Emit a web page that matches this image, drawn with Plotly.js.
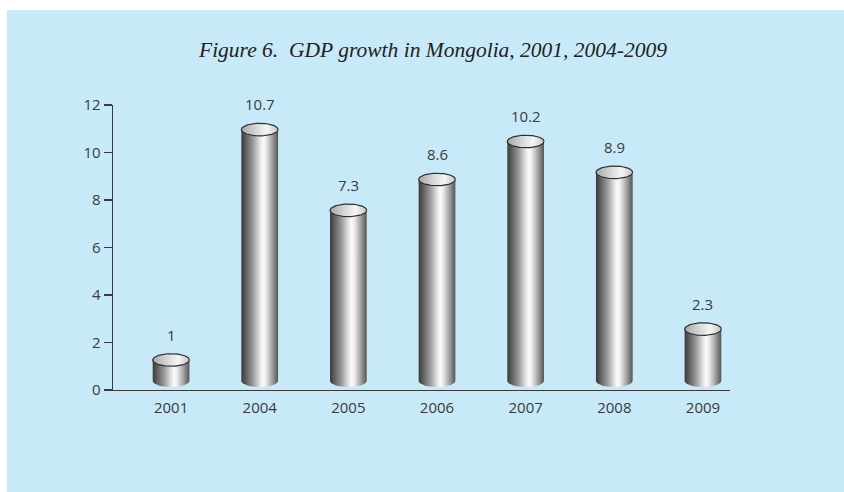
<!DOCTYPE html>
<html>
<head>
<meta charset="utf-8">
<script src="https://cdn.plot.ly/plotly-3.0.1.min.js"></script>
<style>
  html, body { margin: 0; padding: 0; background: #ffffff; }
  #chart { position: absolute; left: 7px; top: 10px; width: 837px; height: 482px; }
</style>
</head>
<body>
<div id="chart"></div>
<script>
// ---- data ----
const years = ['2001', '2004', '2005', '2006', '2007', '2008', '2009'];
const growth = [1, 10.7, 7.3, 8.6, 10.2, 8.9, 2.3];
const valueLabels = ['1', '10.7', '7.3', '8.6', '10.2', '8.9', '2.3'];
const yTicks = [0, 2, 4, 6, 8, 10, 12];

// ---- cylinder styling (sizes in axis units) ----
const RX = 0.207;   // half width of cylinder
const RY = 0.265;   // vertical half-axis of ellipse
const BASE_GAP = 0.12;
const N = 64;

const bodyScale = [[0, '#3a3a3a'], [0.12, '#5e5e5e'], [0.32, '#9c9c9c'], [0.5, '#e2e2e2'],
                   [0.58, '#fbfbfb'], [0.66, '#eeeeee'], [0.82, '#a9a9a9'], [1, '#555555']];
const topScale = [[0, '#a8a8a8'], [0.45, '#dcdcdc'], [0.7, '#f6f6f6'], [1, '#c4c4c4']];

const traces = [];
const annotations = [];

growth.forEach((v, i) => {
  const yt = v + RY;              // centre of top ellipse (front rim at value)
  const yb = RY + BASE_GAP;       // centre of base ellipse
  const bx = [], by = [];
  bx.push(i - RX); by.push(yt);
  bx.push(i + RX); by.push(yt);
  for (let k = 0; k <= N; k++) {
    const a = Math.PI * k / N;
    bx.push(i + RX * Math.cos(a));
    by.push(yb - RY * Math.sin(a));
  }
  bx.push(i - RX); by.push(yt);
  traces.push({
    type: 'scatter', mode: 'lines', x: bx, y: by, fill: 'toself',
    fillgradient: { type: 'horizontal', colorscale: bodyScale },
    line: { width: 0, color: 'rgba(0,0,0,0)' }, hoverinfo: 'skip', showlegend: false, cliponaxis: false
  });
  const ex = [], ey = [];
  for (let k = 0; k <= 2 * N; k++) {
    const a = Math.PI * k / N;
    ex.push(i + RX * Math.cos(a));
    ey.push(yt + RY * Math.sin(a));
  }
  traces.push({
    type: 'scatter', mode: 'lines', x: ex, y: ey, fill: 'toself',
    fillgradient: { type: 'horizontal', colorscale: topScale },
    line: { width: 1.2, color: '#2e2e2e' }, hoverinfo: 'skip', showlegend: false, cliponaxis: false
  });
  annotations.push({
    x: i, y: yt + RY, xref: 'x', yref: 'y', text: valueLabels[i], showarrow: false,
    yanchor: 'bottom', yshift: 7,
    font: { family: 'Open Sans, sans-serif', size: 15, color: '#3b3b3b' }
  });
});

const layout = {
  width: 837, height: 482,
  paper_bgcolor: '#c7e9f8', plot_bgcolor: 'rgba(0,0,0,0)',
  margin: { l: 106, r: 114, t: 95, b: 102 },
  showlegend: false,
  title: {
    text: 'Figure 6.\u00a0 GDP growth in Mongolia, 2001, 2004-2009',
    xref: 'container', yref: 'container', x: 0.509, y: 0.919, xanchor: 'center', yanchor: 'middle',
    font: { family: 'Liberation Serif, serif', size: 21.5, style: 'italic', color: '#222222' }
  },
  xaxis: {
    range: [-0.655, 6.305], tickvals: years.map((_, i) => i), ticktext: years,
    showgrid: false, zeroline: false, showline: true, linecolor: '#3a3a3a', linewidth: 1.3,
    ticks: '', fixedrange: true, ticklabelstandoff: 4,
    tickfont: { family: 'Open Sans, sans-serif', size: 15, color: '#3b3b3b' }
  },
  yaxis: {
    range: [0, 12], tickvals: yTicks, ticktext: yTicks.map(String),
    showgrid: false, zeroline: false, showline: true, linecolor: '#3a3a3a', linewidth: 1.3,
    ticks: 'outside', ticklen: 8, tickcolor: '#3a3a3a', tickwidth: 1.3, fixedrange: true,
    tickfont: { family: 'Open Sans, sans-serif', size: 15, color: '#3b3b3b' }
  },
  annotations: annotations
};

Plotly.newPlot('chart', traces, layout, { displayModeBar: false, staticPlot: true });
</script>
</body>
</html>
